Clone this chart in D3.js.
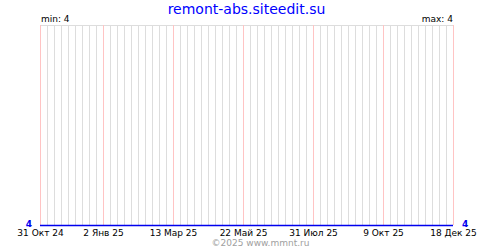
<!DOCTYPE html>
<html>
<head>
<meta charset="utf-8">
<script src="https://cdn.jsdelivr.net/npm/d3@7"></script>
<style>
  body { margin: 0; background: #fff; }
  svg { display: block; }
</style>
</head>
<body>
<svg id="chart"></svg>
<script>
// data
const siteName = "remont-abs.siteedit.su";
const footerText = "©2025 www.mmnt.ru";
const seriesDates = ["2024-10-31", "2025-12-18"];
const seriesValues = [4, 4];
const tickDates = ["2024-10-31", "2025-01-02", "2025-03-13", "2025-05-22", "2025-07-31", "2025-10-09", "2025-12-18"];
const tickLabels = ["31 Окт 24", "2 Янв 25", "13 Мар 25", "22 Май 25", "31 Июл 25", "9 Окт 25", "18 Дек 25"];

const width = 500, height = 250;
const margin = { top: 25, right: 47, bottom: 25, left: 40 };
const font = "'DejaVu Sans', sans-serif";

const svg = d3.select("#chart")
    .attr("width", width)
    .attr("height", height)
    .attr("font-family", font);

const parse = d3.utcParse("%Y-%m-%d");
const dates = seriesDates.map(parse);
const ticks = tickDates.map(parse);

const x = d3.scaleUtc()
    .domain(d3.extent(dates))
    .range([margin.left, width - margin.right]);

const yMin = d3.min(seriesValues), yMax = d3.max(seriesValues);
// flat series: keep the value on the bottom edge
const y = d3.scaleLinear()
    .domain([yMin, yMax === yMin ? yMin + 1 : yMax])
    .range([height - margin.bottom, margin.top]);

// weekly grid lines
const weeks = d3.utcDay.range(x.domain()[0], d3.utcDay.offset(x.domain()[1], 1), 7);
const tickSet = new Set(ticks.map(d => +d));

svg.append("line")
    .attr("x1", margin.left).attr("x2", width - margin.right + 1)
    .attr("y1", margin.top + 0.5).attr("y2", margin.top + 0.5)
    .attr("stroke", "#dddddd");

svg.append("g")
    .selectAll("line")
    .data(weeks.filter(d => !tickSet.has(+d)))
    .join("line")
    .attr("x1", d => Math.round(x(d)) + 0.5)
    .attr("x2", d => Math.round(x(d)) + 0.5)
    .attr("y1", margin.top)
    .attr("y2", height - margin.bottom)
    .attr("stroke", "#dddddd");

svg.append("g")
    .selectAll("line")
    .data(ticks)
    .join("line")
    .attr("x1", d => Math.round(x(d)) + 0.5)
    .attr("x2", d => Math.round(x(d)) + 0.5)
    .attr("y1", margin.top)
    .attr("y2", height - margin.bottom)
    .attr("stroke", "#ffc4c4");

// the series
const line = d3.line()
    .x((d, i) => x(dates[i]))
    .y(d => Math.round(y(d)) + 0.5);

svg.append("path")
    .datum(seriesValues)
    .attr("fill", "none")
    .attr("stroke", "#0000ee")
    .attr("stroke-width", 1.5)
    .attr("d", line);

// date labels
const axis = d3.axisBottom(x)
    .tickValues(ticks)
    .tickSize(0)
    .tickPadding(4)
    .tickFormat((d, i) => tickLabels[i]);

svg.append("g")
    .attr("transform", `translate(0,${height - margin.bottom + 1})`)
    .call(axis)
    .call(g => g.select(".domain").remove())
    .call(g => g.selectAll("text")
        .attr("font-family", font)
        .attr("font-size", 9)
        .attr("fill", "#000"));

// end values
svg.append("text")
    .attr("x", margin.left - 8)
    .attr("y", y(seriesValues[0]) + 2)
    .attr("text-anchor", "end")
    .attr("font-size", 9)
    .attr("font-weight", "bold")
    .attr("fill", "#0000ee")
    .text(seriesValues[0]);

svg.append("text")
    .attr("x", width - margin.right + 9)
    .attr("y", y(seriesValues[seriesValues.length - 1]) + 2)
    .attr("font-size", 9)
    .attr("font-weight", "bold")
    .attr("fill", "#0000ee")
    .text(seriesValues[seriesValues.length - 1]);

// min / max
svg.append("text")
    .attr("x", margin.left + 1)
    .attr("y", margin.top - 3)
    .attr("font-size", 9)
    .text("min: " + yMin);

svg.append("text")
    .attr("x", width - margin.right)
    .attr("y", margin.top - 3)
    .attr("text-anchor", "end")
    .attr("font-size", 9)
    .text("max: " + yMax);

// title and footer
svg.append("text")
    .attr("x", (margin.left + width - margin.right) / 2)
    .attr("y", 14)
    .attr("text-anchor", "middle")
    .attr("font-size", 14)
    .attr("fill", "#0000ff")
    .text(siteName);

svg.append("text")
    .attr("x", (margin.left + width - margin.right) / 2 + 14)
    .attr("y", 246)
    .attr("text-anchor", "middle")
    .attr("font-size", 9)
    .attr("fill", "#a0a0a0")
    .text(footerText);
</script>
</body>
</html>
